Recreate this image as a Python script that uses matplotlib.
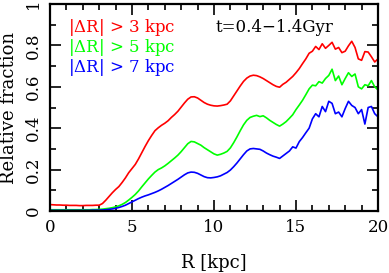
import numpy as np
import matplotlib
matplotlib.use("Agg")
import matplotlib.pyplot as plt
from matplotlib.ticker import MultipleLocator

plt.rcParams['font.family'] = ['DejaVu Serif']
plt.rcParams['mathtext.fontset'] = 'dejavuserif'

# radius grid (kpc), step 0.2
R = np.linspace(0, 20, 101)

frac_3kpc = [0.031, 0.030, 0.029, 0.029, 0.028, 0.028, 0.027, 0.027, 0.027, 0.026,
             0.026, 0.027, 0.027, 0.027, 0.028, 0.028, 0.036, 0.052, 0.070, 0.088,
             0.104, 0.118, 0.138, 0.160, 0.185, 0.205, 0.225, 0.252, 0.282, 0.312,
             0.340, 0.365, 0.388, 0.402, 0.414, 0.424, 0.436, 0.452, 0.466, 0.482,
             0.502, 0.522, 0.540, 0.551, 0.552, 0.546, 0.535, 0.524, 0.516, 0.511,
             0.508, 0.507, 0.509, 0.512, 0.516, 0.532, 0.556, 0.580, 0.604, 0.626,
             0.642, 0.652, 0.656, 0.654, 0.648, 0.640, 0.630, 0.620, 0.610, 0.602,
             0.598, 0.612, 0.622, 0.636, 0.650, 0.668, 0.688, 0.712, 0.735, 0.762,
             0.772, 0.795, 0.780, 0.808, 0.786, 0.800, 0.815, 0.782, 0.790, 0.765,
             0.772, 0.798, 0.820, 0.790, 0.735, 0.728, 0.770, 0.768, 0.745, 0.720,
             0.735]

frac_5kpc = [0.006, 0.006, 0.006, 0.006, 0.006, 0.006, 0.006, 0.006, 0.006, 0.006,
             0.006, 0.006, 0.006, 0.007, 0.007, 0.008, 0.009, 0.011, 0.013, 0.016,
             0.020, 0.025, 0.032, 0.041, 0.053, 0.066, 0.080, 0.097, 0.117, 0.136,
             0.155, 0.172, 0.188, 0.200, 0.208, 0.218, 0.230, 0.243, 0.256, 0.270,
             0.287, 0.306, 0.325, 0.336, 0.334, 0.326, 0.318, 0.306, 0.296, 0.286,
             0.276, 0.270, 0.274, 0.280, 0.288, 0.305, 0.330, 0.358, 0.388, 0.416,
             0.438, 0.452, 0.458, 0.462, 0.456, 0.460, 0.450, 0.438, 0.428, 0.418,
             0.410, 0.420, 0.432, 0.448, 0.465, 0.490, 0.512, 0.535, 0.562, 0.590,
             0.608, 0.605, 0.625, 0.618, 0.640, 0.655, 0.685, 0.630, 0.652, 0.610,
             0.640, 0.668, 0.650, 0.662, 0.600, 0.590, 0.610, 0.605, 0.630, 0.600,
             0.585]

frac_7kpc = [0.003, 0.003, 0.003, 0.003, 0.003, 0.003, 0.003, 0.003, 0.003, 0.003,
             0.003, 0.003, 0.003, 0.004, 0.004, 0.004, 0.005, 0.006, 0.008, 0.010,
             0.013, 0.017, 0.022, 0.028, 0.036, 0.044, 0.052, 0.060, 0.067, 0.073,
             0.078, 0.084, 0.090, 0.097, 0.105, 0.114, 0.123, 0.133, 0.143, 0.153,
             0.164, 0.175, 0.184, 0.188, 0.187, 0.182, 0.174, 0.166, 0.161, 0.160,
             0.162, 0.165, 0.170, 0.178, 0.186, 0.198, 0.214, 0.232, 0.252, 0.272,
             0.290, 0.300, 0.302, 0.300, 0.298, 0.290, 0.280, 0.272, 0.265, 0.260,
             0.254, 0.266, 0.278, 0.290, 0.310, 0.304, 0.335, 0.355, 0.378, 0.400,
             0.445, 0.470, 0.455, 0.505, 0.480, 0.530, 0.520, 0.470, 0.478, 0.455,
             0.495, 0.530, 0.510, 0.500, 0.470, 0.490, 0.420, 0.500, 0.505, 0.470,
             0.455]

labels = [r"|$\Delta$R| > 3 kpc", r"|$\Delta$R| > 5 kpc", r"|$\Delta$R| > 7 kpc"]
colors = ["#ff0000", "#00ff00", "#0000ff"]

fig = plt.figure(figsize=(3.89, 2.73), dpi=100)
ax = fig.add_axes([0.1285, 0.2271, 0.8432, 0.7582])

for y, c in zip([frac_3kpc, frac_5kpc, frac_7kpc], colors):
    ax.plot(R, y, color=c, lw=1.2)

ax.set_xlim(0, 20)
ax.set_ylim(0, 1)
ax.xaxis.set_major_locator(MultipleLocator(5))
ax.xaxis.set_minor_locator(MultipleLocator(1))
ax.yaxis.set_major_locator(MultipleLocator(0.2))
ax.yaxis.set_minor_locator(MultipleLocator(0.1))
ax.set_yticks([0, 0.2, 0.4, 0.6, 0.8, 1.0])
ax.set_yticklabels(["0", "0.2", "0.4", "0.6", "0.8", "1"], rotation=90, va="center")
ax.tick_params(which="both", direction="in", top=True, right=True, labelsize=12, width=1.2)
ax.tick_params(which="major", length=8, pad=6)
ax.tick_params(which="minor", length=4)
for s in ax.spines.values():
    s.set_linewidth(1.6)

ax.set_xlabel("R [kpc]", fontsize=13, labelpad=13)
ax.set_ylabel("Relative fraction", fontsize=13, labelpad=5)

for i, (lab, c) in enumerate(zip(labels, colors)):
    ax.text(0.055, 0.885 - 0.097 * i, lab, color=c, fontsize=12,
            transform=ax.transAxes, va="center", ha="left")
ax.text(0.505, 0.885, "t=0.4\u22121.4Gyr", color="black", fontsize=12,
        transform=ax.transAxes, va="center", ha="left")

fig.savefig("out.png", dpi=100)
